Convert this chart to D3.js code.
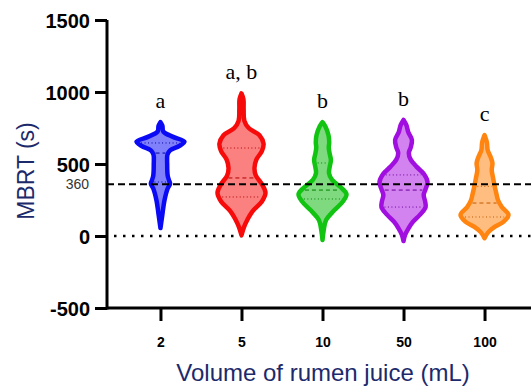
<!DOCTYPE html>
<html>
    <head>
        <meta charset="utf-8">
        <title>MBRT violin plot</title>
        <script src="https://cdn.jsdelivr.net/npm/d3@7"></script>
        <style type="text/css">
            html, body {
                margin: 0;
                background: #fff;
            }
            svg { display: block; }
        </style>
    </head>
    <body>
        <svg id="chart" width="531" height="389"></svg>
        <script>
            // ---------- data
            var categories = ["2", "5", "10", "50", "100"];
            var letters = ["a", "a, b", "b", "b", "c"];
            var yTicks = [-500, 0, 500, 1000, 1500];
            var refLine = 360;

            // violin outlines: [MBRT value, relative density]
            var density2 = [[790, 0], [765, 0.08], [725, 0.12], [690, 0.5], [655, 1.0], [625, 0.78], [595, 0.4], [565, 0.29],
                            [500, 0.28], [420, 0.3], [385, 0.36], [362, 0.4], [330, 0.3], [250, 0.17], [150, 0.08], [55, 0]];
            var density5 = [[990, 0], [950, 0.08], [880, 0.09], [800, 0.12], [750, 0.3], [700, 0.75], [640, 0.92], [590, 0.85],
                            [530, 0.62], [472, 0.54], [420, 0.6], [360, 0.85], [300, 1.0], [240, 0.85], [170, 0.45], [111, 0.24],
                            [60, 0.1], [5, 0]];
            var density10 = [[790, 0], [760, 0.12], [700, 0.25], [650, 0.28], [615, 0.26], [570, 0.3], [528, 0.35], [480, 0.3],
                             [437, 0.27], [390, 0.4], [340, 0.75], [290, 1.0], [240, 0.85], [180, 0.5], [111, 0.15], [40, 0.05], [-28, 0]];
            var density50 = [[806, 0], [770, 0.12], [720, 0.2], [667, 0.35], [615, 0.3], [576, 0.22], [530, 0.3], [480, 0.55],
                             [430, 0.85], [375, 1.0], [330, 0.93], [285, 0.84], [240, 0.9], [201, 0.92], [150, 0.7], [90, 0.35],
                             [56, 0.22], [10, 0.07], [-35, 0]];
            var density100 = [[701, 0], [650, 0.1], [597, 0.13], [550, 0.25], [507, 0.33], [458, 0.3], [400, 0.36], [340, 0.43],
                              [290, 0.5], [250, 0.56], [201, 0.72], [146, 1.0], [100, 0.8], [63, 0.42], [25, 0.15], [-15, 0]];
            var densities = [density2, density5, density10, density50, density100];

            var q1 = [375, 271, 257, 201, 132];
            var median = [576, 403, 319, 319, 229];
            var q3 = [646, 611, 507, 424, 345];

            var strokeColors = ["#0a0af5", "#f70a0a", "#12c412", "#a00ee0", "#ff8410"];
            var fillColors = ["#8080fb", "#fb8080", "#7fd97f", "#d283f0", "#ffbe80"];
            var lineColors = ["#0000a0", "#b00000", "#008000", "#6a0099", "#c05a00"];

            // ---------- layout
            var svg = d3.select("#chart");
            var plotLeft = 107, plotTop = 20, plotBottom = 308, plotRight = 538;

            var y = d3.scaleLinear().domain([-500, 1500]).range([plotBottom, plotTop]);
            var x = d3.scalePoint().domain(categories).range([plotLeft, plotRight]).padding(0.66);
            var w = d3.scaleLinear().domain([0, 1]).range([0, 24]);

            // width of a violin at a given value (linear between outline points)
            function widthAt(profile, v) {
                for (var i = 0; i < profile.length - 1; i++) {
                    var a = profile[i], b = profile[i + 1];
                    if (v <= a[0] && v >= b[0]) {
                        var t = (a[0] - v) / (a[0] - b[0]);
                        return a[1] + t * (b[1] - a[1]);
                    }
                }
                return 0;
            }

            // ---------- reference lines
            svg.append("line")
                .attr("x1", plotLeft).attr("x2", 531)
                .attr("y1", y(0)).attr("y2", y(0))
                .attr("stroke", "#000").attr("stroke-width", 2.5)
                .attr("stroke-dasharray", "2.5,6.5")
                .attr("stroke-dashoffset", -7);

            // ---------- violins
            categories.forEach(function(c, i) {
                var cx = x(c);
                var profile = densities[i];
                var area = d3.area()
                    .curve(d3.curveCatmullRom)
                    .y(function(d) { return y(d[0]); })
                    .x0(function(d) { return cx - w(d[1]); })
                    .x1(function(d) { return cx + w(d[1]); });

                var g = svg.append("g");
                g.append("path")
                    .datum(profile)
                    .attr("d", area)
                    .attr("fill", fillColors[i])
                    .attr("stroke", strokeColors[i])
                    .attr("stroke-width", 4.5)
                    .attr("stroke-linejoin", "round");

                [[q3[i], "1,2.5"], [median[i], "4,3"], [q1[i], "1,2.5"]].forEach(function(q) {
                    var hw = Math.max(w(widthAt(profile, q[0])) - 3, 0);
                    g.append("line")
                        .attr("x1", cx - hw).attr("x2", cx + hw)
                        .attr("y1", y(q[0])).attr("y2", y(q[0]))
                        .attr("stroke", lineColors[i])
                        .attr("stroke-width", 1)
                        .attr("stroke-dasharray", q[1]);
                });

                // significance letter above the top of the violin
                svg.append("text")
                    .attr("x", cx)
                    .attr("y", y(profile[0][0]) - 14)
                    .attr("text-anchor", "middle")
                    .style("font-family", "'Liberation Serif', 'Times New Roman', serif")
                    .style("font-size", "22px")
                    .text(letters[i]);
            });

            svg.append("line")
                .attr("x1", plotLeft).attr("x2", 531)
                .attr("y1", y(refLine)).attr("y2", y(refLine))
                .attr("stroke", "#000").attr("stroke-width", 2)
                .attr("stroke-dasharray", "7,4");

            // ---------- axes
            var yAxis = svg.append("g")
                .attr("transform", "translate(" + plotLeft + ",0)")
                .call(d3.axisLeft(y).tickValues(yTicks)
                    .tickFormat(function(d) { return String(d); })
                    .tickSize(12).tickPadding(5).tickSizeOuter(0));
            yAxis.selectAll("text")
                .style("font-family", "'Liberation Sans', Arial, sans-serif")
                .style("font-size", "20px")
                .style("font-weight", "bold")
                .attr("fill", "#000")
                .attr("dy", "0.36em");

            var xAxis = svg.append("g")
                .attr("transform", "translate(0," + plotBottom + ")")
                .call(d3.axisBottom(x).tickSize(13).tickPadding(16).tickSizeOuter(0));
            xAxis.selectAll("text")
                .style("font-family", "'Liberation Sans', Arial, sans-serif")
                .style("font-size", "14px")
                .style("font-weight", "bold")
                .attr("fill", "#000");

            svg.selectAll(".domain, .tick line")
                .attr("stroke", "#000")
                .attr("stroke-width", 3);
            xAxis.select(".domain").attr("d", "M" + plotLeft + ",0H531");
            yAxis.select(".domain").attr("d", "M0," + plotTop + "V" + (plotBottom + 1.5));

            svg.append("text")
                .attr("x", 89)
                .attr("y", y(refLine))
                .attr("dy", "0.36em")
                .attr("text-anchor", "end")
                .style("font-family", "'Liberation Sans', Arial, sans-serif")
                .style("font-size", "14px")
                .attr("fill", "#333")
                .text(refLine);

            // ---------- axis titles
            svg.append("text")
                .attr("transform", "translate(34,171) rotate(-90)")
                .attr("text-anchor", "middle")
                .style("font-family", "'Liberation Sans', Arial, sans-serif")
                .style("font-size", "23px")
                .attr("fill", "#1c2a6b")
                .text("MBRT (s)");

            svg.append("text")
                .attr("x", 323)
                .attr("y", 381)
                .attr("text-anchor", "middle")
                .style("font-family", "'Liberation Sans', Arial, sans-serif")
                .style("font-size", "24px")
                .attr("fill", "#1c2a6b")
                .text("Volume of rumen juice (mL)");
        </script>
    </body>
</html>
